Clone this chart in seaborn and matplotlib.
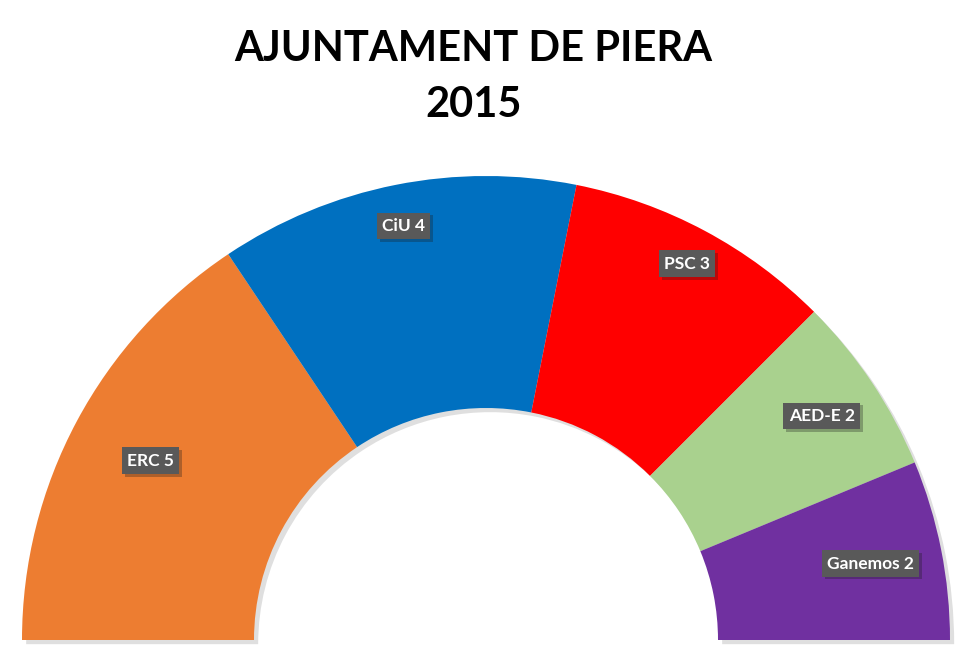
import matplotlib
matplotlib.use("Agg")
import numpy as np
import matplotlib.pyplot as plt
import matplotlib.patheffects as pe
import seaborn as sns

parties = ["ERC", "CiU", "PSC", "AED-E", "Ganemos"]
seats = [5, 4, 3, 2, 2]
colors = ["#ED7D31", "#0070C0", "#FF0000", "#A9D18E", "#7030A0"]
title = "AJUNTAMENT DE PIERA\n2015"

# label distance (fraction of outer radius) per party, as placed in the original
label_dist = [0.82, 0.91, 0.92, 0.87, 0.845]

sns.set_theme(style="white")
plt.rcParams["font.family"] = ["Lato", "DejaVu Sans"]

fig = plt.figure(figsize=(9.7, 6.52), dpi=100)
ax = fig.add_axes([0, 0, 1, 1])

R, cx, cy = 464, 486, 12

# half donut: add an invisible lower half equal to the total seats
values = seats + [sum(seats)]
wedge_colors = colors + ["none"]
wedges, _ = ax.pie(values, colors=wedge_colors, startangle=180, counterclock=False,
                   radius=R, center=(cx, cy),
                   wedgeprops=dict(width=R / 2, linewidth=0))
shadow = [pe.SimplePatchShadow(offset=(3, -3), shadow_rgbFace="gray", alpha=0.25), pe.Normal()]
for w in wedges[:-1]:
    w.set_path_effects(shadow)

# labels
total = sum(seats) * 2
cum = 0
for name, n, d in zip(parties, seats, label_dist):
    mid = 180 - (cum + n / 2) / total * 360
    cum += n
    x = cx + R * d * np.cos(np.radians(mid))
    y = cy + R * d * np.sin(np.radians(mid))
    ax.text(x, y, f"{name} {n}", ha="center", va="center", color="white",
            fontsize=12.5, fontweight="bold",
            bbox=dict(boxstyle="square,pad=0.3", fc="#595959", ec="none",
                      path_effects=[pe.SimplePatchShadow(offset=(2, -2), alpha=0.3), pe.Normal()]))

ax.set_xlim(0, 970)
ax.set_ylim(0, 652)
ax.set_aspect("equal")
ax.axis("off")

fig.text(0.488, 0.882, title, ha="center", va="center", fontsize=30,
         fontweight="bold", linespacing=1.6, color="black")

fig.savefig("out.png", dpi=100, facecolor="white")
